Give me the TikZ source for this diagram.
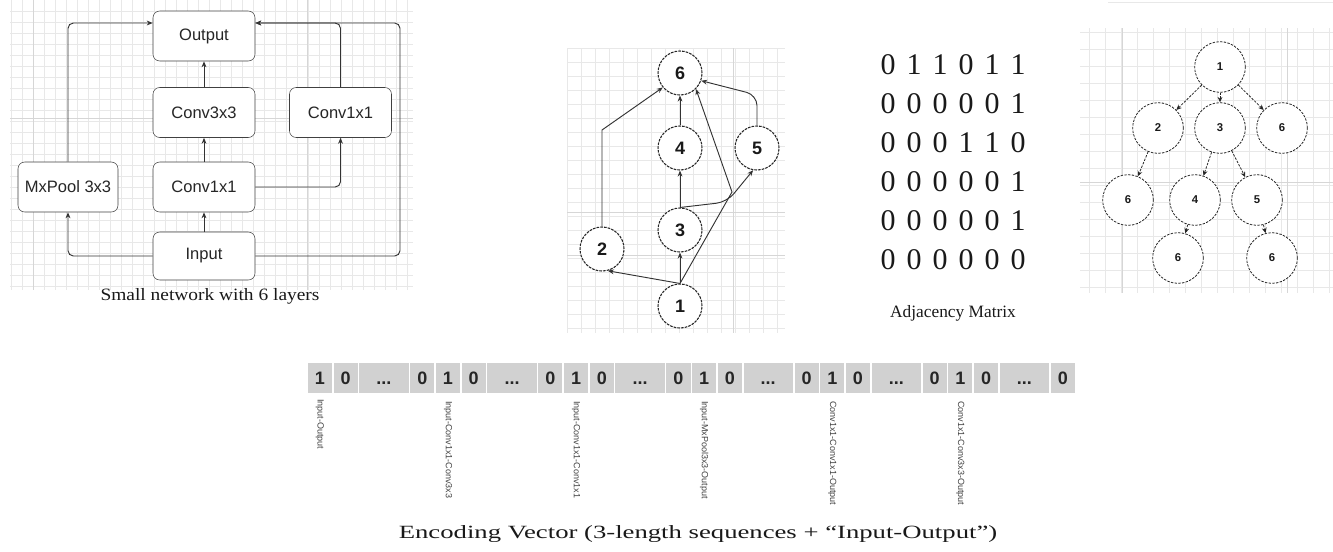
\documentclass[tikz,border=0pt]{standalone}
\usepackage{fontspec}
\setmainfont{Liberation Serif}
\setsansfont{Liberation Sans}
\usetikzlibrary{arrows.meta,calc}
\begin{document}
\begin{tikzpicture}[x=0.75pt,y=-0.75pt,
  gmin/.style={draw=black!9, line width=0.4pt},
  gmaj/.style={draw=black!16, line width=0.5pt},
  box/.style={draw=black!75, rounded corners=5pt, fill=white, minimum width=76.5pt,
    minimum height=37.5pt, inner sep=0pt, text=black!85,
    font=\sffamily\fontsize{12.4}{14}\selectfont},
  arr/.style={draw=black!80, line width=0.7pt, -{Stealth[length=4.5pt,width=3.6pt]}},
  gnode/.style={circle, draw=black!85, dash pattern=on 2pt off 0.8pt, line width=0.8pt,
    minimum size=33pt, inner sep=0pt, fill=white, text=black!90,
    font=\sffamily\bfseries\fontsize{13.5}{14}\selectfont},
  tnode/.style={circle, draw=black!85, dash pattern=on 1.8pt off 1pt, line width=0.6pt,
    minimum size=38pt, inner sep=0pt, fill=white, text=black!90,
    font=\sffamily\bfseries\fontsize{8.5}{9}\selectfont},
  tarr/.style={draw=black!85, line width=0.6pt, dash pattern=on 1.8pt off 1pt,
    -{Stealth[length=4pt,width=3.6pt]}},
  mat/.style={inner sep=0pt, text=black!90, font=\fontsize{22.5}{24}\selectfont},
  captxt/.style={inner sep=0pt, text=black!90, font=\fontsize{13}{15}\selectfont},
  cell/.style={fill=black!18, draw=white, line width=1.2pt, minimum height=24pt,
    inner sep=0pt, text height=9.7pt, text depth=0pt, text=black!85,
    font=\sffamily\bfseries\fontsize{13.5}{14}\selectfont},
  lbl/.style={inner sep=0pt, rotate=-90, anchor=west, text=black!75,
    font=\sffamily\fontsize{6.75}{8}\selectfont}
]
\useasboundingbox (0,0) rectangle (1333,551);

% ---------------- grids ----------------
\foreach \x in {11,22,...,413} \draw[gmin] (\x,0) -- (\x,290);
\foreach \y in {11,22,...,290} \draw[gmin] (10,\y) -- (413,\y);
\foreach \x in {33,307} \draw[gmaj] (\x,0) -- (\x,290);
\foreach \y in {118} \draw[gmaj] (10,\y) -- (413,\y);

\foreach \x in {567,581,...,785} \draw[gmin] (\x,48) -- (\x,333);
\foreach \y in {48,62,...,333} \draw[gmin] (567,\y) -- (785,\y);
\draw[gmaj] (733,48) -- (733,333);
\foreach \y in {212,255} \draw[gmaj] (567,\y) -- (785,\y);

\foreach \x in {1089,1105,...,1333} \draw[gmin] (\x,28) -- (\x,293);
\foreach \y in {32,49,...,293} \draw[gmin] (1080,\y) -- (1333,\y);
\foreach \x in {1122,1287} \draw[gmaj] (\x,28) -- (\x,293);
\draw[gmaj] (1080,182) -- (1333,182);
\draw[gmin] (1108,2) -- (1333,2);

% ---------------- small network ----------------
\node[box] (out) at (204,36) {Output};
\node[box] (c3) at (204,112.5) {Conv3x3};
\node[box] (cr) at (340.5,112.5) {Conv1x1};
\node[box, minimum width=75pt] (mp) at (68,187) {MxPool 3x3};
\node[box] (cm) at (204,187) {Conv1x1};
\node[box, minimum height=36pt] (in) at (204,256) {Input};

\coordinate (oL) at ($(out.west)+(0,-13)$);
\coordinate (oR) at ($(out.east)+(0,-13)$);
\coordinate (rr) at (400,23);

\draw[arr] (in.north) -- (cm.south);
\draw[arr] (cm.north) -- (c3.south);
\draw[arr] (c3.north) -- (out.south);
\draw[arr, rounded corners=4pt] (in.west) -| (mp.south);
\draw[arr, rounded corners=4pt] (mp.north) |- (oL);
\draw[arr, rounded corners=4pt] (cm.east) -| (cr.south);
\draw[arr, rounded corners=4pt] (cr.north) |- (oR);
\draw[arr, rounded corners=4pt] (in.east) -| (rr) -- (oR);

\node[captxt] (capA) at (210,296) {\scalebox{1.12}[1]{Small network with 6 layers}};

% ---------------- graph ----------------
\node[gnode] (g6) at (680,73) {6};
\node[gnode] (g4) at (680,148) {4};
\node[gnode] (g5) at (757,148) {5};
\node[gnode] (g3) at (680,230) {3};
\node[gnode] (g2) at (602,249) {2};
\node[gnode] (g1) at (680,306) {1};

\coordinate (b16) at (732,192);
\coordinate (b26) at (602,130);
\coordinate (b35) at (727,202);
\coordinate (b56) at (757,95);

\draw[arr] (g1.north) -- (g2.-75);
\draw[arr] (g1.north) -- (g3.south);
\draw[arr] (g1.north) -- (b16) -- (g6.-45);
\draw[arr] (g2.north) -- (b26) -- (g6.-140);
\draw[arr] (g3.north) -- (g4.south);
\draw[arr, rounded corners=8pt] (g3.north) -- (b35) -- (g5.-100);
\draw[arr] (g4.north) -- (g6.south);
\draw[arr, rounded corners=8pt] (g5.north) -- (b56) -- (g6.-20);

% ---------------- adjacency matrix ----------------
\foreach \r/\row in {1/{0,1,1,0,1,1}, 2/{0,0,0,0,0,1}, 3/{0,0,0,1,1,0},
                     4/{0,0,0,0,0,1}, 5/{0,0,0,0,0,1}, 6/{0,0,0,0,0,0}}{
  \foreach \v [count=\c] in \row {
    \node[mat] (m\r\c) at ({888+26*(\c-1)},{65+39*(\r-1)}) {\v};
  }
}
\node[captxt] (capM) at (953,313) {Adjacency Matrix};

% ---------------- tree ----------------
\node[tnode] (t1) at (1220,67) {1};
\node[tnode] (t2) at (1158,128) {2};
\node[tnode] (t3) at (1220,128) {3};
\node[tnode] (t6a) at (1282,128) {6};
\node[tnode] (t6b) at (1128,200) {6};
\node[tnode] (t4) at (1195,200) {4};
\node[tnode] (t5) at (1257,200) {5};
\node[tnode] (t6c) at (1178,258) {6};
\node[tnode] (t6d) at (1272,258) {6};

\draw[tarr] (t1) -- (t2);
\draw[tarr] (t1) -- (t3);
\draw[tarr] (t1) -- (t6a);
\draw[tarr] (t2) -- (t6b);
\draw[tarr] (t3) -- (t4);
\draw[tarr] (t3) -- (t5);
\draw[tarr] (t4) -- (t6c);
\draw[tarr] (t5) -- (t6d);

% ---------------- encoding vector ----------------
\node[cell, minimum width=19.275pt] (e1) at (319.85,378) {1};
\node[cell, minimum width=19.275pt] (e2) at (345.55,378) {0};
\node[cell, minimum width=38.25pt] (e3) at (383.9,378) {...};
\foreach \k in {0,...,4}{
  \pgfmathsetmacro\s{409.4+128.1*\k}
  \node[cell, minimum width=19.275pt] (ga\k) at (\s+12.85,378) {0};
  \node[cell, minimum width=19.275pt] (gb\k) at (\s+38.55,378) {1};
  \node[cell, minimum width=19.275pt] (gc\k) at (\s+64.25,378) {0};
  \node[cell, minimum width=38.25pt] (gd\k) at (\s+102.6,378) {...};
}
\node[cell, minimum width=19.275pt] (ez) at (1062.75,378) {0};

\node[lbl] (lab) at (319.85,399) {Input-Output};
\foreach \k/\t in {0/Input-Conv1x1-Conv3x3, 1/Input-Conv1x1-Conv1x1,
                   2/Input-MxPool3x3-Output, 3/Conv1x1-Conv1x1-Output,
                   4/Conv1x1-Conv3x3-Output}{
  \node[lbl] (lab\k) at ($(gb\k.south)+(0,6)$) {\t};
}

\node[captxt, font=\fontsize{14}{16}\selectfont] (capE) at (698,534)
  {\scalebox{1.43}[1]{Encoding Vector (3-length sequences + “Input-Output”)}};
\end{tikzpicture}
\end{document}
